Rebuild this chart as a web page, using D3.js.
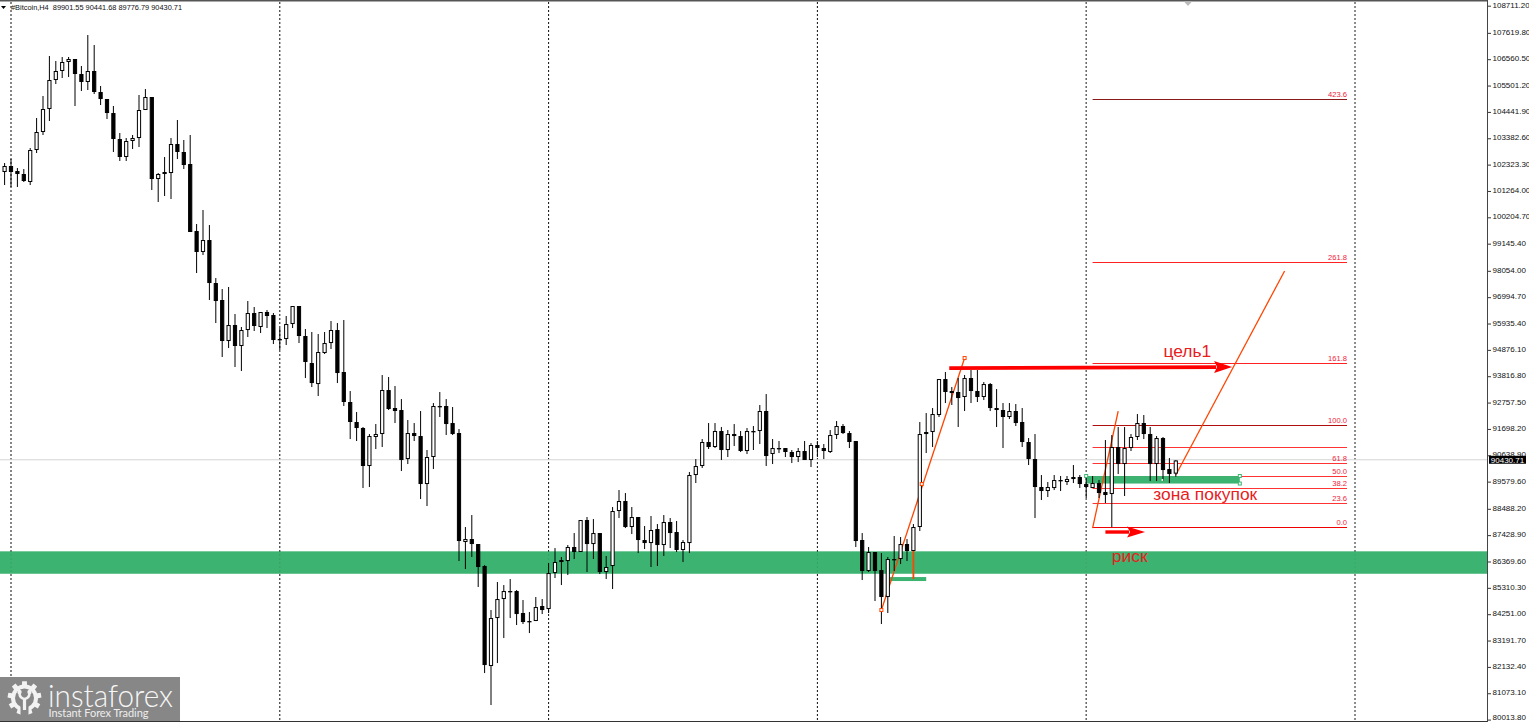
<!DOCTYPE html>
<html>
<head>
<meta charset="utf-8">
<script src="https://cdn.jsdelivr.net/npm/d3@7"></script>
<style>
html,body{margin:0;padding:0;background:#fff;overflow:hidden}
svg{display:block}
text{font-family:"Liberation Sans",Arial,sans-serif}
</style>
</head>
<body>
<svg id="chart" width="1529" height="722"></svg>
<script>
const opens=[102026,102267,102066,101945,101624,102910,103634,104558,105724,106086,106448,106568,105965,105644,106086,105242,104960,104397,103352,102629,103272,103392,104518,105041,101744,101945,101985,103151,102830,102347,99654,98810,99292,97563,96880,95232,95875,95031,95674,96357,95795,96398,96277,95272,95312,95915,96639,95433,94347,93503,94749,95151,95674,93986,92780,91976,91734,90207,91373,91493,93262,92538,92458,90488,91533,91413,89483,90569,92579,92619,91935,91533,87152,87272,87071,86187,82167,84096,84860,85142,85182,84297,83936,83976,84579,84458,85905,86428,86388,86951,86750,88036,87071,87513,85946,86187,88398,88800,87755,88157,87232,87111,87674,87031,87956,87554,86830,87111,89845,90207,91172,90971,91614,90850,91493,91413,90810,91574,91614,92418,90689,90890,90930,90770,90569,90810,90448,91051,90930,90770,91453,91815,91533,91212,87232,85986,86750,86026,84941,86428,86468,87071,86790,87755,91493,91574,92257,93704,93222,93182,92981,93744,93222,92981,93503,92538,92458,92177,92418,91976,91172,90488,89363,89202,89322,89644,89564,89684,89765,89483,89322,89523,89162,89081,90971,90287,90930,91373,91935,91493,90287,91332,90086,89901.55];
const highs=[102387,102548,102186,102146,102990,104196,105081,106689,106488,106649,106649,106568,106287,107533,107131,105483,104960,104679,103593,103392,103513,105121,105362,105041,101985,102629,103392,104116,103312,103513,99935,100498,99895,97764,97322,97403,96317,95795,96840,96599,96398,96478,96357,95754,96237,96639,96639,95714,95594,95513,95594,96036,95955,96076,93222,92378,91775,91493,91895,93865,93785,93423,92900,92056,91935,92418,90850,92739,93182,92900,92579,91694,87755,88237,87071,86227,84418,85544,85423,85664,85222,84820,84338,84941,84860,86307,86910,86549,87031,87513,88036,88157,88076,87513,86589,88559,89242,89121,88559,88157,87795,88197,87875,88237,88116,87996,87232,89966,90488,91292,91935,91935,91775,91654,91895,91614,91734,91815,92659,93101,91292,91212,90930,90850,90930,91212,91131,91212,91091,91654,92016,91895,91614,91212,87513,86951,86750,86709,86549,87393,87353,87272,87875,91976,92337,92538,93704,93986,93383,93744,93865,94066,94066,93584,93543,93302,92739,92739,92699,92538,91332,91493,89845,89564,89845,89805,89805,90247,89845,89765,89805,89644,91252,91453,91775,91775,91493,92297,92257,91775,91413,91372,90528,90441.68];
const lows=[101503,101423,101423,101624,101503,102789,103513,104076,105563,105804,105845,104679,105282,105322,105161,104719,104156,102830,102468,102468,102950,103031,104518,101302,100820,101061,100940,102548,102146,99614,97965,98689,96880,95955,94589,94950,94187,94026,95393,95634,95553,95754,95111,94870,95071,95754,95151,93744,93383,93021,94709,94910,93543,92619,91292,91212,89322,89363,90890,90971,92458,91935,90006,90287,91212,88880,88599,90086,92177,91453,91453,86388,86066,86549,85343,81885,80599,82287,83292,84096,83815,83855,83493,83976,84257,84297,85704,85423,85825,86468,86750,85946,86468,85865,85664,85262,88116,87714,87473,86709,86870,86147,86187,86589,86910,86750,86348,86709,89523,90126,90890,90930,90448,90569,91011,90770,90689,90850,91091,90207,90287,90729,90569,90327,90368,90448,90167,90569,90488,90729,91292,91493,90930,86951,85624,85946,84780,83855,84297,85986,86267,86388,86790,87594,90729,90971,92177,92739,92659,91775,92418,92739,92780,92860,92418,91775,90930,92096,91815,90971,90247,88116,88840,88961,89242,89202,89443,89523,89322,88920,89322,88920,88719,87755,89885,89001,90810,91252,91292,89604,89604,89604,89523,89776.79];
const closes=[102267,102026,101945,101664,102910,103634,104558,105724,106086,106448,106568,105965,105644,106086,105242,104960,104397,103352,102629,103272,103392,104518,105041,101744,101945,102026,103151,102830,102307,99614,98810,99292,97563,96840,95232,95875,95031,95674,96357,95835,96398,96237,95272,95312,95915,96639,95433,94388,93543,94790,95151,95674,93945,92780,91976,91734,90207,91413,91493,93262,92498,92418,90448,91533,91413,89483,90569,92619,92619,91895,91493,87192,87272,87071,86147,82207,84096,84860,85182,85182,84257,83936,83976,84539,84418,85905,86348,86348,86951,86750,88036,87071,87513,85946,86147,88398,88800,87755,88157,87232,87111,87634,87031,87956,87513,86830,87152,89845,90207,91172,90971,91614,90850,91493,91413,90810,91614,91614,92418,90609,90930,90930,90770,90569,90810,90448,91051,90930,90810,91453,91815,91533,91172,87192,85986,86750,85986,84941,86468,86468,87071,86790,87755,91493,91574,92297,93704,93182,93141,92940,93744,93222,92981,93503,92538,92458,92177,92418,91935,91172,90488,89363,89202,89363,89644,89604,89684,89765,89483,89363,89523,89121,89041,90971,90287,90930,91373,91935,91493,90287,91332,90046,89885,90430.71];

const priceTicks=[108711.2,107619.8,106560.5,105501.2,104441.9,103382.6,102323.3,101264,100204.7,99145.4,98054,96994.7,95935.4,94876.1,93816.8,92757.5,91698.2,90638.9,89579.6,88488.2,87428.9,86369.6,85310.3,84251,83191.7,82132.4,81073.1,80013.8];
const periodStarts=[1,43,85,127,169,211];
const fibLevels=["423.6","261.8","161.8","100.0","","61.8","50.0","38.2","23.6","0.0"];
const fibPrices=[104940,98408,94327,91835,90950,90327,89805,89322,88719,87755];
const fibColors=["#8a1a1a","#f22","#f22","#b01010","#f33","#f33","#f33","#f33","#f33","#f00000"];
const lastPrice=90430.71;
const title="#Bitcoin,H4  89901.55 90441.68 89776.79 90430.71";
const bigZone=[86769,85885];
const buyZone={from:169,to:193,top:89805,bottom:89503};
const stopBar={from:138.3,to:144,top:85744,bottom:85584};
const trendLines=[[[137,84418],[150,94548]],[[170,87714],[174,92418]],[[183,89845],[200,98046]],[[142,86790],[142,85664]]];
const trendHandles=[[137,84418],[143.3,89483],[150,94548]];
const arrows=[{a:[147.6,94146],b:[191.8,94186],w:3.8,len:18,half:6},{a:[172,87554],b:[178.2,87554],w:3.4,len:18,half:5.5}];
const notes=[{t:"цель1",i:184.8,p:94788},{t:"зона покупок",i:187.6,p:89021},{t:"риск",i:175.8,p:86549}];
const zoneDot=[180.9,89644];

const W=1529,H=722,plotR=1488;
const svg=d3.select("#chart");
const x=d3.scaleLinear().domain([0,183]).range([4.6,1175.8]);
const y=d3.scaleLinear().domain([80013.8,108711.2]).range([719.6,5.7]);
const crisp=v=>Math.floor(v)+0.5;

svg.append("rect").attr("width",W).attr("height",H).attr("fill","#fff");

// band
const GREEN="rgb(60,179,113)";
svg.append("rect").attr("x",0).attr("width",plotR).attr("y",y(bigZone[0])).attr("height",y(bigZone[1])-y(bigZone[0])).attr("fill",GREEN);

// period separators
svg.append("g").selectAll("line").data(periodStarts).join("line")
  .attr("x1",d=>x(d)).attr("x2",d=>x(d)).attr("y1",2).attr("y2",720)
  .attr("stroke",(d,i)=>i>=4?"#555":"#000").attr("stroke-width",(d,i)=>i>=4?1.4:1).attr("stroke-dasharray","2 2").attr("opacity",0.95);
// band veil so separators only glint through
svg.append("rect").attr("x",0).attr("width",plotR).attr("y",y(bigZone[0])).attr("height",y(bigZone[1])-y(bigZone[0])).attr("fill",GREEN).attr("opacity",0.9);

// last price line
svg.append("line").attr("x1",0).attr("x2",plotR).attr("y1",y(lastPrice)-0.7).attr("y2",y(lastPrice)-0.7).attr("stroke","#d4d4d4").attr("stroke-width",1);

// fibonacci
const fibX1=x(170),fibX2=1347;
const fib=svg.append("g");
fib.selectAll("line").data(fibPrices).join("line")
  .attr("x1",fibX1).attr("x2",fibX2).attr("y1",d=>crisp(y(d))).attr("y2",d=>crisp(y(d)))
  .attr("stroke",(d,i)=>fibColors[i]).attr("stroke-width",1.1);
fib.selectAll("text").data(fibLevels).join("text")
  .attr("x",fibX2).attr("y",(d,i)=>y(fibPrices[i])-2.4).attr("text-anchor","end")
  .attr("font-size",7.6).attr("fill","#f0203a").text(d=>d);

// zones
svg.append("rect").attr("x",x(buyZone.from)).attr("width",x(buyZone.to)-x(buyZone.from)).attr("y",y(buyZone.top)).attr("height",y(buyZone.bottom)-y(buyZone.top)).attr("fill",GREEN);
svg.append("rect").attr("x",x(stopBar.from)).attr("width",x(stopBar.to)-x(stopBar.from)).attr("y",y(stopBar.top)).attr("height",y(stopBar.bottom)-y(stopBar.top)).attr("fill",GREEN);

// trend lines
svg.append("g").selectAll("line").data(trendLines).join("line")
  .attr("x1",d=>x(d[0][0])).attr("y1",d=>y(d[0][1])).attr("x2",d=>x(d[1][0])).attr("y2",d=>y(d[1][1]))
  .attr("stroke","#ff4500").attr("stroke-width",(d,i)=>i===3?1.8:1.3);

// candles
const idx=d3.range(opens.length);
const c=svg.append("g");
c.selectAll("line").data(idx).join("line")
  .attr("x1",i=>x(i)).attr("x2",i=>x(i)).attr("y1",i=>y(highs[i])).attr("y2",i=>y(lows[i]))
  .attr("stroke","#000").attr("stroke-width",1);
c.selectAll("rect").data(idx).join("rect")
  .attr("x",i=>x(i)-1.6).attr("width",3.2)
  .attr("y",i=>y(Math.max(opens[i],closes[i]))+0.5)
  .attr("height",i=>Math.max(0.3,Math.abs(y(opens[i])-y(closes[i]))-1))
  .attr("fill",i=>closes[i]>=opens[i]?"#fff":"#000").attr("stroke","#000").attr("stroke-width",1);

// handles
svg.append("g").selectAll("rect").data(trendHandles).join("rect")
  .attr("x",d=>x(d[0])-1.5).attr("y",d=>y(d[1])-1.5).attr("width",3).attr("height",3)
  .attr("fill","#fff").attr("stroke","#ff4500").attr("stroke-width",1);
const gh=[[buyZone.from,buyZone.top],[buyZone.to,buyZone.top],[buyZone.to,buyZone.bottom]];
svg.append("g").selectAll("rect").data(gh).join("rect")
  .attr("x",d=>x(d[0])-1.5).attr("y",d=>y(d[1])-1.5).attr("width",3).attr("height",3)
  .attr("fill","#fff").attr("stroke",GREEN).attr("stroke-width",1);
svg.append("circle").attr("cx",x(zoneDot[0])).attr("cy",y(zoneDot[1])).attr("r",1).attr("fill","#fff");

// arrows
const ag=svg.append("g");
arrows.forEach(ar=>{
  const x1=x(ar.a[0]),y1=y(ar.a[1]),x2=x(ar.b[0]),y2=y(ar.b[1]);
  ag.append("line").attr("x1",x1).attr("y1",y1).attr("x2",x2-ar.len+2).attr("y2",y2).attr("stroke","#f00").attr("stroke-width",ar.w);
  ag.append("polygon").attr("points",[[x2,y2],[x2-ar.len,y2-ar.half],[x2-ar.len+3,y2],[x2-ar.len,y2+ar.half]].join(" ")).attr("fill","#f00");
});

// notes
svg.append("g").selectAll("text").data(notes).join("text")
  .attr("x",d=>x(d.i)).attr("y",d=>y(d.p)).attr("text-anchor","middle").attr("dominant-baseline","middle")
  .attr("font-size",17.4).attr("fill","#e8201c").text(d=>d.t);

// axis
svg.append("rect").attr("x",plotR).attr("y",0).attr("width",W-plotR).attr("height",H).attr("fill","#fff");
const axis=d3.axisRight(y).tickValues(priceTicks).tickFormat(d=>d.toFixed(2)).tickSize(3).tickPadding(1.5);
const ax=svg.append("g").attr("transform",`translate(${plotR},0)`).call(axis);
ax.select(".domain").remove();
ax.selectAll("line").attr("stroke","#333");
ax.selectAll("text").attr("font-size",8).attr("dy",(d,i)=>i===priceTicks.length-1?"-0.05em":"0.2em").attr("fill","#111").attr("font-family","'Liberation Sans',Arial,sans-serif");

// frame
svg.append("line").attr("x1",0).attr("x2",plotR).attr("y1",0.75).attr("y2",0.75).attr("stroke","#555").attr("stroke-width",1.5);
svg.append("line").attr("x1",0).attr("x2",plotR).attr("y1",721.5).attr("y2",721.5).attr("stroke","#333");
svg.append("line").attr("x1",plotR-0.5).attr("x2",plotR-0.5).attr("y1",0).attr("y2",H).attr("stroke","#444");

// price tag
const ty=y(lastPrice)-0.7;
svg.append("rect").attr("x",1489).attr("y",ty-4).attr("width",37).attr("height",8).attr("fill","#000");
svg.append("text").attr("x",1507.5).attr("y",ty).attr("dy","0.35em").attr("text-anchor","middle").attr("font-size",8).attr("fill","#fff").text(lastPrice.toFixed(2));

// title
svg.append("polygon").attr("points","1,6 6,6 3.5,9").attr("fill","#000");
svg.append("text").attr("x",11).attr("y",10).attr("font-size",8).attr("fill","#111").attr("xml:space","preserve").style("white-space","pre").attr("textLength",171).attr("lengthAdjust","spacingAndGlyphs").text(title);
// shift marker
svg.append("polygon").attr("points","1184,1.5 1192,1.5 1188,6").attr("fill","#bbb");

// logo
const logo=svg.append("g");
logo.append("rect").attr("x",0).attr("y",677).attr("width",180).attr("height",44).attr("fill","#878787");
const gcx=24.5,gcy=698,teeth=9,R0=13.5,R1=17;
const gearPts=[];
for(let k=0;k<teeth;k++){
  const a=2*Math.PI*k/teeth, s=2*Math.PI/teeth;
  [[-.5,R0],[-.27,R0],[-.2,R1],[.2,R1],[.27,R0]].forEach(p=>{
    const t=a+p[0]*s-Math.PI/2;
    gearPts.push([gcx+p[1]*Math.cos(t),gcy+p[1]*Math.sin(t)]);
  });
}
logo.append("polygon").attr("points",gearPts.join(" ")).attr("fill","#f2f2f2");
logo.append("circle").attr("cx",gcx).attr("cy",gcy).attr("r",9.5).attr("fill","#878787");
logo.append("rect").attr("x",gcx-4).attr("y",gcy+8).attr("width",8).attr("height",9).attr("fill","#878787");
logo.append("path").attr("d",`M${gcx-5},${gcy-5} Q${gcx-5},${gcy} ${gcx},${gcy+1} Q${gcx+5},${gcy} ${gcx+5},${gcy-5}`).attr("fill","none").attr("stroke","#f2f2f2").attr("stroke-width",2.6);
logo.append("rect").attr("x",gcx-1.6).attr("y",gcy).attr("width",3.2).attr("height",12).attr("fill","#f2f2f2");
logo.append("circle").attr("cx",gcx-5).attr("cy",gcy-6).attr("r",2.2).attr("fill","#f2f2f2");
logo.append("circle").attr("cx",gcx+5).attr("cy",gcy-6).attr("r",2.2).attr("fill","#f2f2f2");
logo.append("text").attr("x",48).attr("y",706.8).attr("font-size",32).attr("fill","#f6f6f6").style("font-family","'Lato Light','Open Sans Light',Lato,sans-serif").style("font-weight",300).attr("textLength",125).attr("lengthAdjust","spacingAndGlyphs").text("instaforex");
logo.append("text").attr("x",48.5).attr("y",717).attr("font-size",11).attr("fill","#eee").style("font-family","Lato,'Open Sans',sans-serif").attr("textLength",100).text("Instant Forex Trading");
</script>
</body>
</html>
